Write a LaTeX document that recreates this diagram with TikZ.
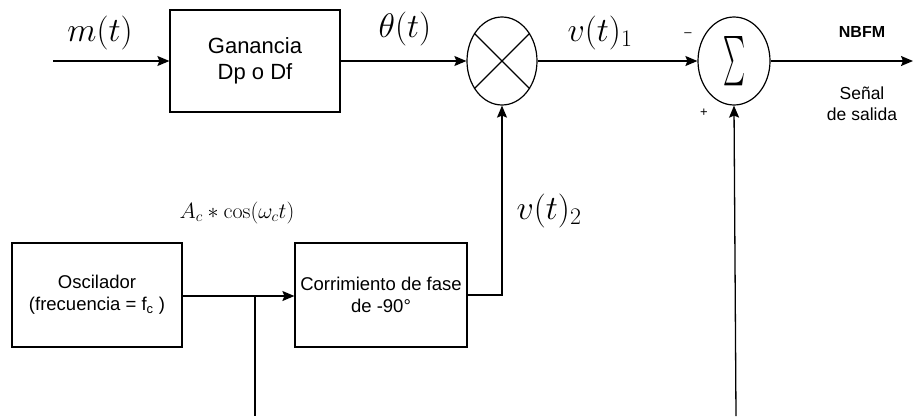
\RequirePackage{fix-cm}
\documentclass[tikz,border=0pt]{standalone}
\usepackage{fontspec}
\newfontfamily\arial{Liberation Sans}
\usepackage{graphicx}
\usetikzlibrary{arrows.meta,shapes.geometric}
\tikzset{
  blk/.style={draw, line width=1.2pt, rectangle, inner sep=0pt, align=center, font=\arial\fontsize{18.5}{22}\selectfont},
  circ/.style={draw, line width=1.2pt, ellipse, inner sep=0pt},
  arr/.style={line width=1.3pt, -{Stealth[length=12pt,width=10pt,inset=2pt]}},
  wire/.style={line width=1.3pt},
  bigm/.style={font=\fontsize{34}{38}\selectfont},
  lbl/.style={font=\arial\fontsize{17.5}{21}\selectfont, align=center},
  sgn/.style={font=\arial\fontsize{13}{15}\selectfont}
}
\begin{document}
\begin{tikzpicture}[x=1pt,y=-1pt]
\useasboundingbox (0,0) rectangle (913,416);
% blocks
\node[blk, minimum width=170pt, minimum height=102pt, font=\arial\fontsize{22}{26}\selectfont] (gan) at (255,61) {Ganancia\\Dp o Df};
\node[blk, minimum width=170pt, minimum height=104pt] (osc) at (97,295) {Oscilador\\(frecuencia = f\textsubscript{c} )};
\node[blk, minimum width=172pt, minimum height=104pt] (ph) at (381,295) {Corrimiento de fase\\de -90°};
\node[circ, minimum width=70pt, minimum height=88pt] (mul) at (502,61) {};
\draw[line width=1.1pt] (mul.135) -- (mul.315) (mul.45) -- (mul.225);
\node[circ, minimum width=72pt, minimum height=88pt] (sum) at (734,61) {\resizebox{22pt}{37pt}{$\sum$}};
% coordinates
\coordinate (in) at (53,61);
\coordinate (out) at (913,61);
\coordinate (j) at (255,296);
\coordinate (b1) at (255,416);
\coordinate (b2) at (736,416);
% connectors
\draw[arr] (in) -- (gan.west);
\draw[arr] (gan.east) -- (mul.west);
\draw[arr] (mul.east) -- (sum.west);
\draw[arr] (sum.east) -- (out);
\draw[arr] (osc.east |- j) -- (ph.west |- j);
\draw[wire] (j) -- (b1);
\draw[arr] (ph.east) -| (mul.south);
\draw[arr] (b2) -- (sum.south);
% labels
\node[bigm] (lm) at (100,33) {$m(t)$};
\node[bigm] (lth) at (405,29) {$\theta(t)$};
\node[bigm] (lv1) at (600,33) {$v(t)_1$};
\node[bigm] (lv2) at (549,211) {$v(t)_2$};
\node[font=\fontsize{22}{25}\selectfont] (lac) at (237,213) {$A_c * \cos(\omega_c t)$};
\node[lbl, font=\arial\bfseries\fontsize{16}{19}\selectfont] (lnb) at (862,32) {NBFM};
\node[lbl] (lsal) at (862,104) {Señal\\de salida};
\node[sgn] (lmin) at (688,35) {\textendash};
\node[sgn] (lplus) at (704,113) {+};
\end{tikzpicture}
\end{document}
